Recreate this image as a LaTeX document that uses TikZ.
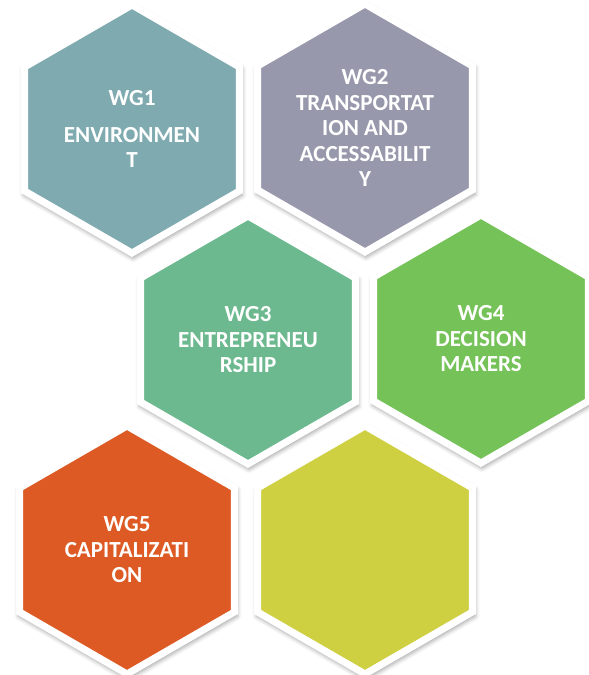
\documentclass[tikz,border=0pt]{standalone}
\usepackage{fontspec}
\setmainfont{Carlito}
\usetikzlibrary{shapes.geometric,shadows.blur}

\definecolor{envcol}{HTML}{7FAAB0}
\definecolor{trancol}{HTML}{9898AC}
\definecolor{entrcol}{HTML}{6CB98F}
\definecolor{deccol}{HTML}{74C258}
\definecolor{capcol}{HTML}{DD5A24}
\definecolor{spcol}{HTML}{CED041}

\tikzset{
  hexcell/.style={regular polygon,regular polygon sides=6,shape border rotate=30,
    minimum size=248pt,inner sep=0pt,draw=white,line width=7pt,
    blur shadow={shadow xshift=1pt,shadow yshift=-3pt,shadow scale=1.02,
      shadow blur radius=4pt,shadow opacity=35},
    text=white,align=center,font=\fontsize{23}{25.5}\selectfont\bfseries}
}

\begin{document}
\begin{tikzpicture}[x=1pt,y=-1pt]
  \useasboundingbox (0,0) rectangle (589,675);
  \node[hexcell,fill=envcol] (wg1) at (132,129) {WG1\\[11pt] ENVIRONMEN\\ T};
  \node[hexcell,fill=trancol] (wg2) at (365,128)
  {WG2\\ TRANSPORTAT\\ ION AND\\ ACCESSABILIT\\ Y};
  \node[hexcell,fill=entrcol] (wg3) at (248,340) {WG3\\ ENTREPRENEU\\ RSHIP};
  \node[hexcell,fill=deccol] (wg4) at (481,339) {WG4\\ DECISION\\ MAKERS};
  \node[hexcell,fill=capcol] (wg5) at (127,550) {WG5\\ CAPITALIZATI\\ ON};
  \node[hexcell,fill=spcol] (spare) at (365,550) {};
\end{tikzpicture}
\end{document}
